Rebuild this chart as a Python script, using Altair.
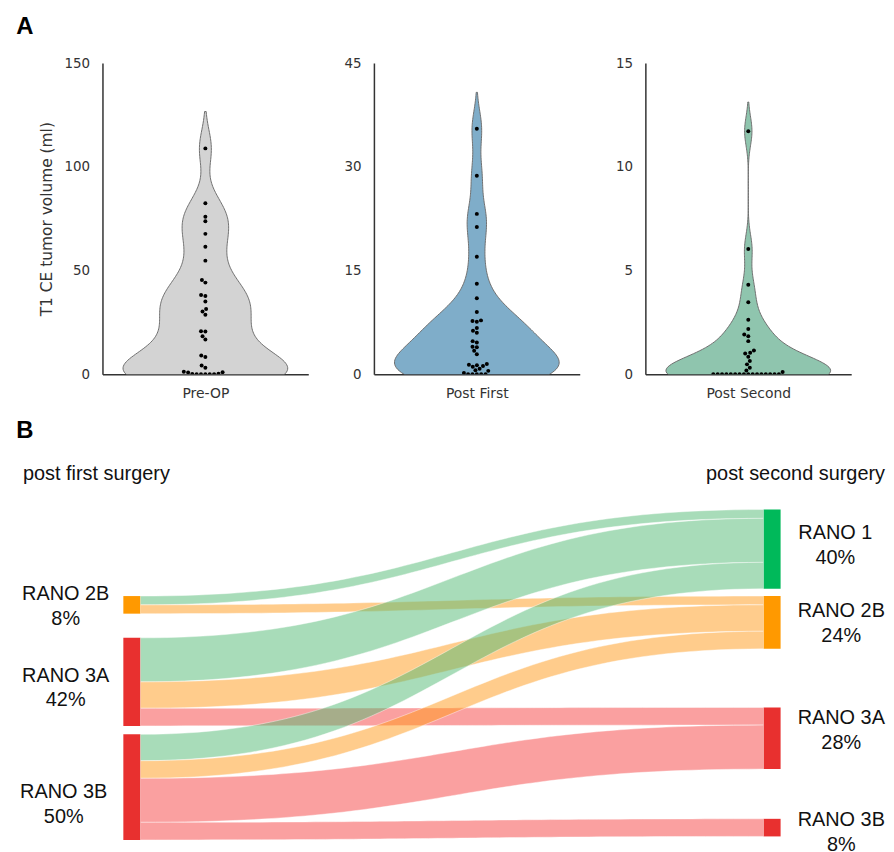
import altair as alt
import numpy as np
import pandas as pd

# ---------------- data: panel A (tumor volume, ml) ----------------
groups = ["Pre-OP", "Post First", "Post Second"]
pre_op = [108.9, 82.5, 76.0, 73.8, 67.7, 61.5, 54.8, 45.5, 44.2, 38.2, 37.8, 35.1,
          31.5, 30.3, 28.7, 20.8, 20.6, 18.4, 16.8, 9.1, 8.4, 4.3, 3.2, 1.2, 1.0,
          0.9, 0.3, 0.2, 0.1, 0.0, 0.0, 0.0, 0.0]
post_first = [35.5, 28.7, 23.2, 21.3, 17.0, 13.1, 11.0, 9.0, 7.8, 7.7, 7.6, 6.7,
              6.3, 6.0, 4.8, 4.6, 4.0, 3.9, 3.4, 2.9, 1.5, 1.4, 1.3, 1.2, 1.1, 0.8,
              0.6, 0.5, 0.2, 0.0, 0.0, 0.0, 0.0, 0.0]
post_second = [11.72, 6.04, 4.32, 3.47, 2.63, 2.19, 1.92, 1.84, 1.60, 1.15, 1.04,
               1.0, 0.85, 0.64, 0.48, 0.32, 0.19, 0.11,
               0.0, 0.0, 0.0, 0.0, 0.0, 0.0, 0.0, 0.0, 0.0, 0.0, 0.0, 0.0, 0.0,
               0.0, 0.0, 0.0]
y_max = [150, 45, 15]
y_ticks = [[0, 50, 100, 150], [0, 15, 30, 45], [0, 5, 10, 15]]

# ---------------- data: panel B (RANO transitions) ----------------
src_nodes = ["RANO 2B", "RANO 3A", "RANO 3B"]
src_pct = ["8%", "42%", "50%"]
tgt_nodes = ["RANO 1", "RANO 2B", "RANO 3A", "RANO 3B"]
tgt_pct = ["40%", "24%", "28%", "8%"]
link_src = ["RANO 2B", "RANO 2B", "RANO 3A", "RANO 3A", "RANO 3A",
            "RANO 3B", "RANO 3B", "RANO 3B", "RANO 3B"]
link_tgt = ["RANO 1", "RANO 2B", "RANO 1", "RANO 2B", "RANO 3A",
            "RANO 1", "RANO 2B", "RANO 3A", "RANO 3B"]
link_n = [1, 1, 5, 3, 2, 3, 2, 5, 2]

# ---------------- styles / layout ----------------
violin_fill = ["#d3d3d3", "#7fadc9", "#8fc5ae"]
PW, PH = 207, 313
DOT = 4.4
FONT_A = "DejaVu Sans"
FONT_B = "Liberation Sans"
node_col = {"RANO 1": "#00b95a", "RANO 2B": "#ff9900", "RANO 3A": "#e8302f", "RANO 3B": "#e8302f"}
link_col = {"RANO 1": "#51b973", "RANO 2B": "#ff9919", "RANO 3A": "#f54141", "RANO 3B": "#f54141"}
src_top = {"RANO 2B": 9.83, "RANO 3A": 14.58, "RANO 3B": 25.54}
tgt_top = {"RANO 1": 0.0, "RANO 2B": 9.83, "RANO 3A": 22.49, "RANO 3B": 35.14}
# first-line positions of the node labels (sankey units)
src_lab_y = [9.60, 18.87, 32.09]
tgt_lab_y = [2.71, 11.53, 23.73, 35.25]
src_lab_u = [-0.0877, -0.0877, -0.0907]
tgt_lab_u = [1.0832, 1.0923, 1.0923, 1.0923]
NODE_W = 0.0257
SX = [-0.03177, 1.15885]
SY = [-11.07, 38.64]
SW, SH = 787, 440


def swarm(values, px_per_unit, d):
    vals = np.asarray(values, dtype=float)
    order = np.argsort(vals, kind="stable")
    placed = []
    xs = np.zeros(len(vals))
    for i in order:
        y = vals[i] * px_per_unit
        cands = [0.0]
        for (px, py) in placed:
            dy = abs(y - py)
            if dy < d:
                dx = np.sqrt(d * d - dy * dy)
                cands += [px + dx, px - dx]
        cands.sort(key=lambda c: (abs(c), c))
        for c in cands:
            if all((c - px) ** 2 + (y - py) ** 2 >= d * d - 1e-6 for px, py in placed):
                xs[i] = c
                placed.append((c, y))
                break
    return xs / PW


def panel(i):
    vals = [pre_op, post_first, post_second][i]
    bw = 0.3 * float(np.std(vals, ddof=1))
    lo, hi = min(vals) - 2 * bw, max(vals) + 2 * bw
    xsc = alt.Scale(domain=[-0.5, 0.5], nice=False, zero=False)
    ysc = alt.Scale(domain=[0, y_max[i]], nice=False, zero=False)
    yaxis = alt.Axis(values=y_ticks[i], ticks=False, grid=False, labelPadding=13,
                     labelFont=FONT_A, labelFontSize=13.5, labelColor="#333",
                     domainColor="#333", domainWidth=1.5,
                     title="T1 CE tumor volume (ml)" if i == 0 else None,
                     titleFont=FONT_A, titleFontSize=15.5, titleFontWeight="normal",
                     titleColor="#333", titlePadding=9)
    xaxis = alt.Axis(labels=False, ticks=False, grid=False, domainColor="#333",
                     domainWidth=1.5, title=groups[i], titleFont=FONT_A,
                     titleFontSize=14, titleFontWeight="normal", titleColor="#333",
                     titlePadding=12)
    base = alt.Chart(pd.DataFrame({"v": vals}))
    violin = base.transform_density(
        "v", as_=["v", "density"], bandwidth=bw, extent=[lo, hi], steps=200
    ).transform_joinaggregate(dmax="max(density)").transform_calculate(
        hw="datum.density / datum.dmax * 0.4", nhw="-datum.density / datum.dmax * 0.4"
    ).mark_area(orient="horizontal", fill=violin_fill[i], stroke="#6f6f6f",
                strokeWidth=1, clip=True).encode(
        y=alt.Y("v:Q", scale=ysc, axis=yaxis),
        x=alt.X("hw:Q", scale=xsc, axis=xaxis),
        x2="nhw:Q",
    )
    pts = pd.DataFrame({"v": vals, "xo": swarm(vals, PH / y_max[i], DOT)})
    dots = alt.Chart(pts).mark_circle(size=16, color="black", opacity=1, clip=True).encode(
        y=alt.Y("v:Q", scale=ysc), x=alt.X("xo:Q", scale=xsc)
    )
    layers = [violin, dots]
    if i == 0:
        layers.append(alt.Chart(pd.DataFrame({"t": ["A"]})).mark_text(
            font=FONT_B, fontSize=24, fontWeight="bold", align="center", baseline="middle",
            color="black").encode(x=alt.value(-78), y=alt.value(-36.5), text="t:N"))
    return alt.layer(*layers).properties(width=PW, height=PH)


# ---------------- sankey tables ----------------
src_tot = {s: sum(n for a, n in zip(link_src, link_n) if a == s) for s in src_nodes}
tgt_tot = {t: sum(n for b, n in zip(link_tgt, link_n) if b == t) for t in tgt_nodes}
so = dict.fromkeys(src_nodes, 0.0)
to = dict.fromkeys(tgt_nodes, 0.0)
rows = []
for k, (s, t, n) in enumerate(zip(link_src, link_tgt, link_n)):
    ys0 = src_top[s] + so[s]
    so[s] += n
    yt0 = tgt_top[t] + to[t]
    to[t] += n
    for tt in np.linspace(0, 1, 61):
        xb = 1.5 * tt * (1 - tt) + tt ** 3
        yb = 3 * tt ** 2 - 2 * tt ** 3
        y0 = ys0 + (yt0 - ys0) * yb
        rows.append({"link": k, "u": NODE_W + (1 - 2 * NODE_W) * xb,
                     "y0": y0, "y1": y0 + n, "col": link_col[t]})
links_df = pd.DataFrame(rows)

nodes = []
for s in src_nodes:
    nodes.append({"u0": 0.0, "u1": NODE_W, "y0": src_top[s], "y1": src_top[s] + src_tot[s],
                  "col": node_col[s]})
for t in tgt_nodes:
    nodes.append({"u0": 1 - NODE_W, "u1": 1.0, "y0": tgt_top[t], "y1": tgt_top[t] + tgt_tot[t],
                  "col": node_col[t]})
nodes_df = pd.DataFrame(nodes)

labels_df = pd.DataFrame(
    [{"u": u, "y": y, "t": f"{s}\n{p}"}
     for s, p, u, y in zip(src_nodes, src_pct, src_lab_u, src_lab_y)]
    + [{"u": u, "y": y, "t": f"{s}\n{p}"}
       for s, p, u, y in zip(tgt_nodes, tgt_pct, tgt_lab_u, tgt_lab_y)]
)

sxs = alt.Scale(domain=SX, nice=False, zero=False)
sys_ = alt.Scale(domain=SY, nice=False, zero=False, reverse=True)

link_layer = alt.Chart(links_df).mark_area(
    fillOpacity=0.5, stroke="white", strokeWidth=0.6, strokeOpacity=0.7
).encode(
    x=alt.X("u:Q", scale=sxs, axis=None),
    y=alt.Y("y0:Q", scale=sys_, axis=None, stack=None),
    y2="y1:Q",
    color=alt.Color("col:N", scale=None),
    fill=alt.Fill("col:N", scale=None),
    detail="link:N",
)
node_layer = alt.Chart(nodes_df).mark_rect().encode(
    x=alt.X("u0:Q", scale=sxs, axis=None), x2="u1:Q",
    y=alt.Y("y0:Q", scale=sys_, axis=None), y2="y1:Q",
    color=alt.Color("col:N", scale=None),
)
label_layer = alt.Chart(labels_df).mark_text(
    font=FONT_B, fontSize=20, lineBreak="\n", lineHeight=25, align="center",
    baseline="middle", color="#111").encode(
    x=alt.X("u:Q", scale=sxs), y=alt.Y("y:Q", scale=sys_), text="t:N")
head_l = alt.Chart(pd.DataFrame({"u": [-0.1528], "y": [-4.07], "t": ["post first surgery"]})).mark_text(
    font=FONT_B, fontSize=20, align="left", baseline="middle", color="#111").encode(
    x=alt.X("u:Q", scale=sxs), y=alt.Y("y:Q", scale=sys_), text="t:N")
head_r = alt.Chart(pd.DataFrame({"u": [1.1589], "y": [-4.07], "t": ["post second surgery"]})).mark_text(
    font=FONT_B, fontSize=20, align="right", baseline="middle", color="#111").encode(
    x=alt.X("u:Q", scale=sxs), y=alt.Y("y:Q", scale=sys_), text="t:N")
b_lab = alt.Chart(pd.DataFrame({"u": [-0.1498], "y": [-8.93], "t": ["B"]})).mark_text(
    font=FONT_B, fontSize=24, fontWeight="bold", align="center", baseline="middle",
    color="black").encode(
    x=alt.X("u:Q", scale=sxs), y=alt.Y("y:Q", scale=sys_), text="t:N")

sankey = alt.layer(link_layer, node_layer, label_layer, head_l, head_r, b_lab).properties(
    width=SW, height=SH)

top = alt.hconcat(panel(0), panel(1), panel(2), spacing=66, bounds="flush")
chart = alt.vconcat(top, sankey, spacing=PH + 38, bounds="flush").properties(
    padding={"left": 8, "top": 4, "right": 0, "bottom": 0}
).configure_view(stroke=None).configure_axis(grid=False)

chart.save("out.html", embed_options={"renderer": "svg", "actions": False})
